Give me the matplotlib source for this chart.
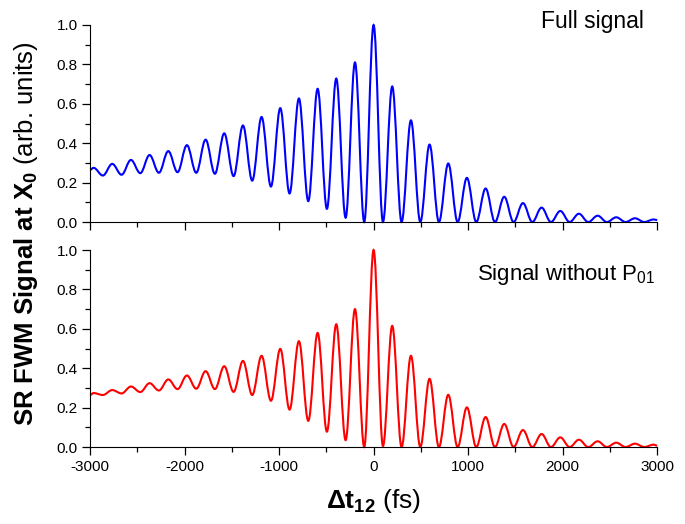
import matplotlib
matplotlib.use('Agg')
import matplotlib.pyplot as plt
from matplotlib.path import Path
from matplotlib.patches import PathPatch
from matplotlib.ticker import MultipleLocator, FormatStrFormatter

plt.rcParams['font.family'] = ['Liberation Sans', 'DejaVu Sans']
plt.rcParams['mathtext.fontset'] = 'custom'
plt.rcParams['mathtext.rm'] = 'Liberation Sans'
plt.rcParams['mathtext.it'] = 'Liberation Sans'
plt.rcParams['mathtext.bf'] = 'Liberation Sans:bold'
plt.rcParams['axes.unicode_minus'] = False

# delay times of the turning points (maxima / minima), fs
delay = [-3000, -2962, -2864, -2765, -2666, -2567, -2468, -2370, -2271, -2172,
         -2074, -1975, -1876, -1777, -1679, -1580, -1481, -1382, -1284, -1185,
         -1086, -987, -889, -790, -691, -592, -494, -395, -296, -197,
         -99, 0, 99, 197, 296, 395, 494, 592, 691, 790,
         889, 987, 1086, 1185, 1284, 1382, 1481, 1580, 1679, 1777,
         1876, 1975, 2074, 2172, 2271, 2370, 2468, 2567, 2666, 2765,
         2864, 2962, 3000]

full_signal = [0.265, 0.275, 0.236, 0.295, 0.240, 0.315, 0.248, 0.340, 0.250, 0.360,
               0.253, 0.390, 0.250, 0.418, 0.245, 0.450, 0.233, 0.490, 0.210, 0.533,
               0.180, 0.578, 0.145, 0.627, 0.106, 0.676, 0.067, 0.728, 0.022, 0.810,
               0.000, 1.000, 0.000, 0.688, 0.000, 0.516, 0.000, 0.393, 0.000, 0.297,
               0.000, 0.224, 0.000, 0.170, 0.000, 0.128, 0.000, 0.096, 0.000, 0.073,
               0.000, 0.056, 0.000, 0.042, 0.000, 0.032, 0.000, 0.024, 0.000, 0.019,
               0.000, 0.013, 0.010]

no_p01_signal = [0.264, 0.274, 0.264, 0.289, 0.272, 0.307, 0.279, 0.324, 0.287, 0.343,
                 0.294, 0.363, 0.296, 0.385, 0.294, 0.410, 0.280, 0.437, 0.264, 0.463,
                 0.235, 0.498, 0.190, 0.537, 0.133, 0.579, 0.078, 0.623, 0.035, 0.700,
                 0.000, 1.000, 0.005, 0.615, 0.000, 0.463, 0.000, 0.346, 0.000, 0.265,
                 0.000, 0.201, 0.000, 0.152, 0.000, 0.117, 0.000, 0.086, 0.000, 0.066,
                 0.000, 0.049, 0.000, 0.037, 0.000, 0.029, 0.000, 0.022, 0.000, 0.017,
                 0.000, 0.012, 0.007]


def smooth_path(x, y):
    # cubic segments with flat tangents at each turning point
    verts = [(x[0], y[0])]
    codes = [Path.MOVETO]
    for i in range(len(x) - 1):
        dx = x[i + 1] - x[i]
        verts += [(x[i] + 0.3642 * dx, y[i]), (x[i + 1] - 0.3642 * dx, y[i + 1]), (x[i + 1], y[i + 1])]
        codes += [Path.CURVE4] * 3
    return Path(verts, codes)


def style_axes(ax):
    ax.set_xlim(-3000, 3000)
    ax.set_ylim(0, 1.0)
    ax.spines['top'].set_visible(False)
    ax.spines['right'].set_visible(False)
    ax.xaxis.set_major_locator(MultipleLocator(1000))
    ax.xaxis.set_minor_locator(MultipleLocator(500))
    ax.yaxis.set_major_locator(MultipleLocator(0.2))
    ax.yaxis.set_minor_locator(MultipleLocator(0.1))
    ax.tick_params(which='major', direction='out', length=6, width=0.9, labelsize=11, pad=3)
    ax.tick_params(which='minor', direction='out', length=3.5, width=0.9)
    ax.yaxis.set_major_formatter(FormatStrFormatter('%.1f'))


fig = plt.figure(figsize=(6.85, 5.24), dpi=100)
ax1 = fig.add_axes([0.1314, 0.5763, 0.828, 0.376])
ax2 = fig.add_axes([0.1314, 0.1469, 0.828, 0.376])

ax1.add_patch(PathPatch(smooth_path(delay, full_signal), facecolor='none',
                        edgecolor='#0000ff', lw=1.5, clip_on=False))
ax2.add_patch(PathPatch(smooth_path(delay, no_p01_signal), facecolor='none',
                        edgecolor='#ff0000', lw=1.5, clip_on=False))

style_axes(ax1)
style_axes(ax2)
ax1.tick_params(labelbottom=False)

ax1.text(0.977, 0.986, 'Full signal', transform=ax1.transAxes, fontsize=16.5,
         ha='right', va='baseline')
ax2.text(0.996, 0.848, 'Signal without P$_{01}$', transform=ax2.transAxes, fontsize=16,
         ha='right', va='baseline')

ax2.set_xlabel(r'$\mathbf{\Delta t_{12}}$ (fs)', fontsize=19, labelpad=10)
fig.text(0.038, 0.555, r'$\mathbf{SR\ FWM\ Signal\ at\ X_0}$ (arb. units)',
         rotation=90, fontsize=18.5, ha='center', va='center')

fig.savefig('out.png', dpi=100)
